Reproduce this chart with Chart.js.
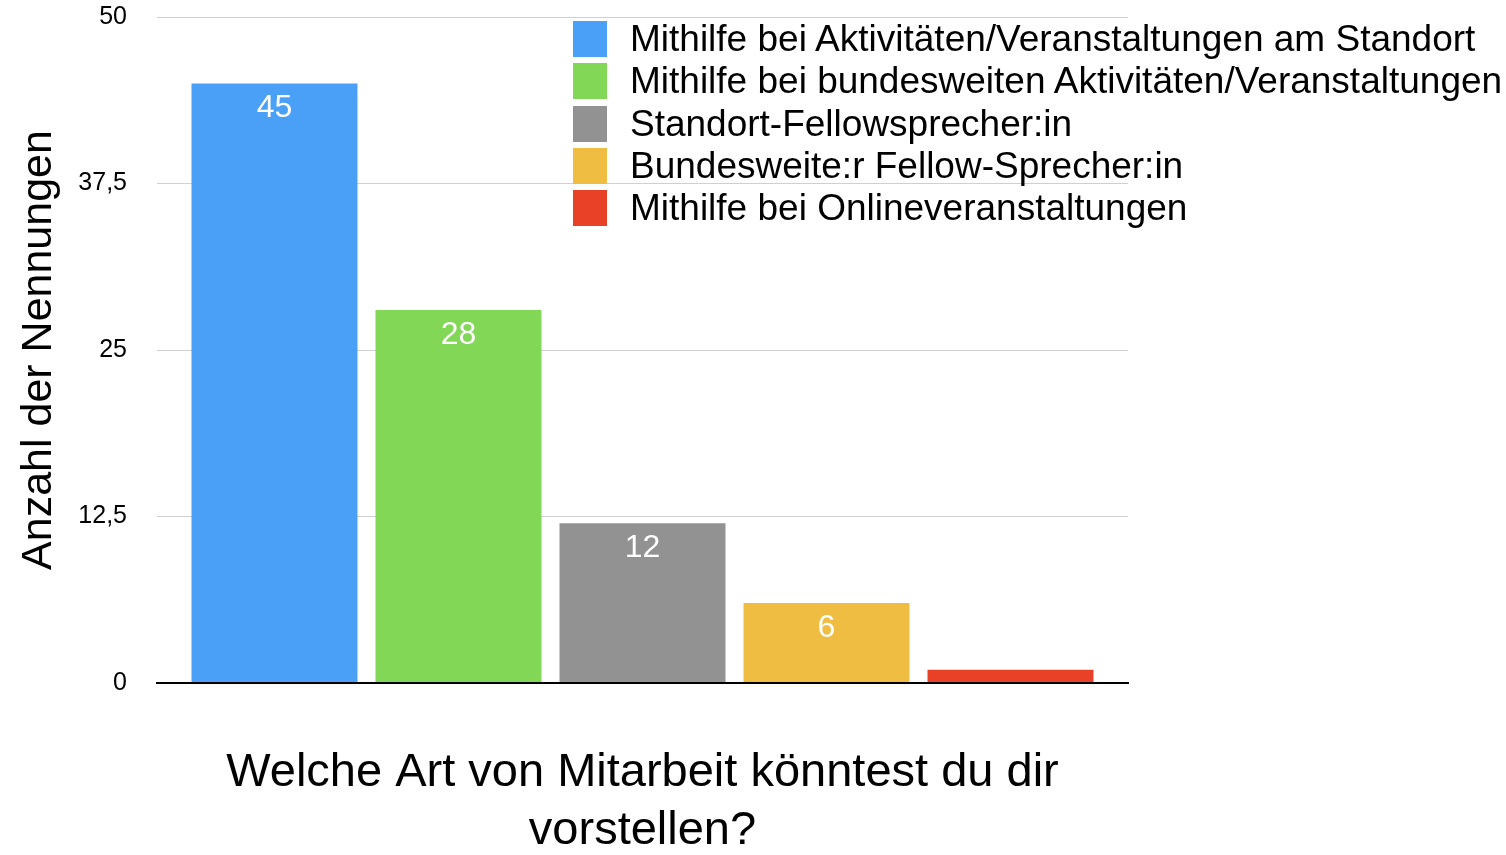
<!DOCTYPE html>
<html>
<head>
<meta charset="utf-8">
<script src="https://cdn.jsdelivr.net/npm/chart.js@4/dist/chart.umd.min.js"></script>
<style>
  html, body { margin: 0; padding: 0; background: #fff; }
  #wrap { position: relative; width: 1506px; height: 855px; overflow: hidden; }
  #chart { position: absolute; left: 0; top: 0; }
  #legend { position: absolute; left: 573px; top: 18px; margin: 0; padding: 0; list-style: none;
    font-family: "Liberation Sans", Arial, sans-serif; font-size: 37px; color: #000; }
  #legend li { display: flex; align-items: center; height: 42.3px; white-space: nowrap; }
  #legend .box { width: 34px; height: 36px; margin-right: 23px; flex: none; }
</style>
</head>
<body>
<div id="wrap">
  <canvas id="chart" width="1506" height="855"></canvas>
  <ul id="legend"></ul>
</div>
<script>
// Chart data
const categories = [
  'Mithilfe bei Aktivitäten/Veranstaltungen am Standort',
  'Mithilfe bei bundesweiten Aktivitäten/Veranstaltungen',
  'Standort-Fellowsprecher:in',
  'Bundesweite:r Fellow-Sprecher:in',
  'Mithilfe bei Onlineveranstaltungen'
];
const values = [45, 28, 12, 6, 1];
const barColors = ['#4a9ff6', '#82d757', '#929292', '#eebd42', '#e94127'];
const yTicks = [0, 12.5, 25, 37.5, 50];
const yTitle = 'Anzahl der Nennungen';
const xTitle = ['Welche Art von Mitarbeit könntest du dir', 'vorstellen?'];

const FONT = '"Liberation Sans", Arial, Helvetica, sans-serif';

// Legend (HTML, built from the arrays)
const legendEl = document.getElementById('legend');
categories.forEach((c, i) => {
  const li = document.createElement('li');
  li.innerHTML = `<span class="box" style="background:${barColors[i]}"></span><span>${c}</span>`;
  legendEl.appendChild(li);
});

// White value labels inside the bars
const valueLabels = {
  id: 'valueLabels',
  afterDatasetsDraw(chart) {
    const ctx = chart.ctx;
    ctx.save();
    ctx.fillStyle = '#fff';
    ctx.font = `32px ${FONT}`;
    ctx.textAlign = 'center';
    ctx.textBaseline = 'middle';
    chart.data.datasets.forEach((ds, i) => {
      const v = ds.data[0];
      if (v < 3) return; // too small for a label, like the original
      const bar = chart.getDatasetMeta(i).data[0];
      ctx.fillText(String(v), bar.x, bar.y + 25);
    });
    ctx.restore();
  }
};

new Chart(document.getElementById('chart'), {
  type: 'bar',
  data: {
    labels: [''],
    datasets: categories.map((c, i) => ({
      label: c,
      data: [values[i]],
      backgroundColor: barColors[i],
      borderWidth: 0,
      categoryPercentage: 0.9475,
      barPercentage: 0.902
    }))
  },
  options: {
    responsive: false,
    devicePixelRatio: 1,
    animation: false,
    layout: { padding: { left: 0, right: 378, top: 17, bottom: 0 } },
    plugins: {
      legend: { display: false },
      tooltip: { enabled: false }
    },
    scales: {
      x: {
        ticks: { display: false },
        grid: { display: false, drawTicks: false },
        border: { display: true, color: '#000', width: 2 },
        title: {
          display: true,
          text: xTitle,
          color: '#000',
          font: { family: FONT, size: 47, lineHeight: 1.24 },
          padding: { top: 0, bottom: -5 }
        },
        afterFit: (scale) => { scale.height = 172; }
      },
      y: {
        min: 0,
        max: 50,
        afterBuildTicks: (scale) => { scale.ticks = yTicks.map(v => ({ value: v })); },
        ticks: {
          color: '#000',
          padding: 30,
          font: { family: FONT, size: 25 },
          callback: (v) => v.toLocaleString('de-DE')
        },
        grid: {
          drawTicks: false,
          color: (c) => c.tick && c.tick.value === 0 ? '#000' : '#d0d0d0',
          lineWidth: (c) => c.tick && c.tick.value === 0 ? 2 : 1
        },
        border: { display: false },
        title: {
          display: true,
          text: yTitle,
          color: '#000',
          font: { family: FONT, size: 43 },
          padding: { top: 13, bottom: 0 }
        },
        afterFit: (scale) => {
          scale.width = 157;
          scale.paddingTop = 0;
          scale.paddingBottom = 0;
        }
      }
    }
  },
  plugins: [valueLabels]
});
</script>
</body>
</html>
